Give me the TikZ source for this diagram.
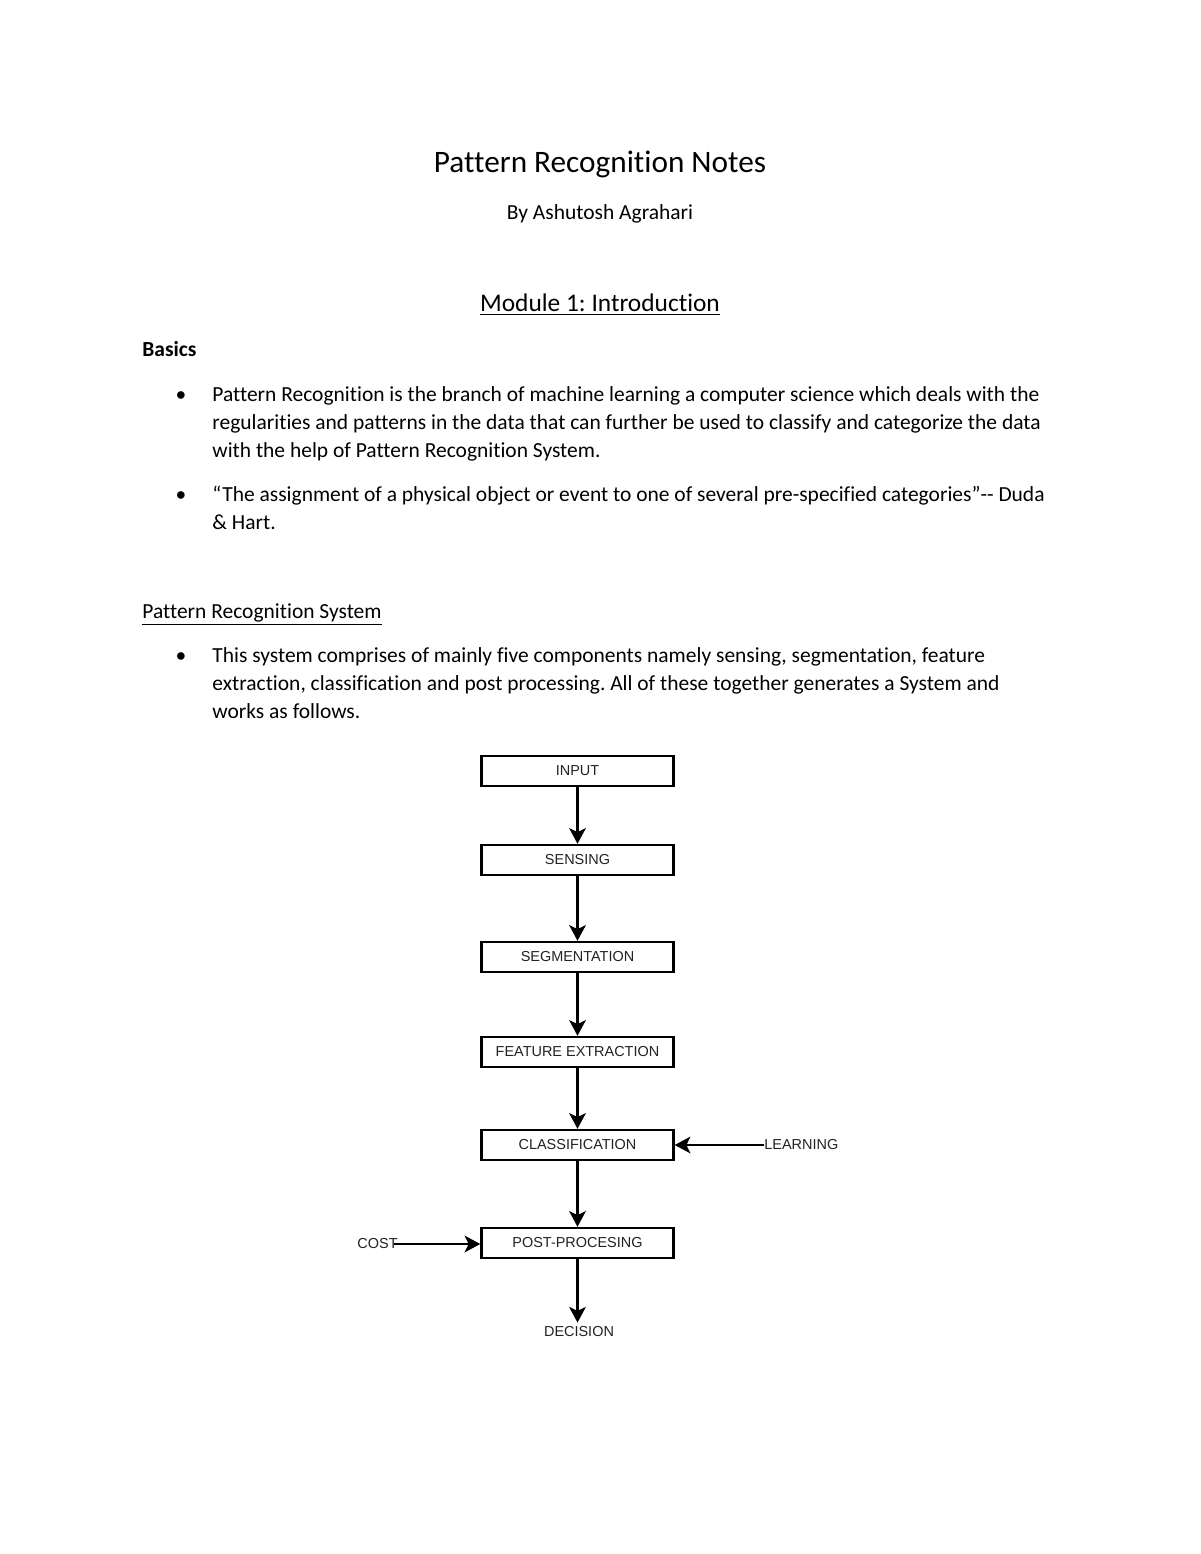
\documentclass[tikz,border=0pt]{standalone}
\usepackage{fontspec}
\setmainfont{Carlito}[Ligatures=CommonOff]
\newfontfamily\boxfont{Liberation Sans}
\usetikzlibrary{arrows.meta}
\definecolor{boxInk}{HTML}{222222}
\frenchspacing

\begin{document}
\begin{tikzpicture}[x=0.51191pt, y=-0.51191pt,
    every node/.style={inner sep=0pt},
    bodyline/.style={anchor=base west, font=\fontsize{11}{13}\selectfont},
    bulletmark/.style={anchor=base, font=\fontsize{11}{13}\selectfont},
    flowbox/.style={draw, line width=1.2pt, minimum width=98.3pt, minimum height=15.4pt,
      font=\boxfont\fontsize{7.4}{8}\selectfont, text=boxInk},
    flowlabel/.style={font=\boxfont\fontsize{7.4}{8}\selectfont, text=boxInk},
    flowarrow/.style={line width=1.2pt, -{Stealth[length=8pt, width=8.5pt, inset=2pt]}}]
    \useasboundingbox[fill=white] (0,0) rectangle (1200,1554);
    % heading
    \node[anchor=base, font=\fontsize{16}{19}\selectfont] (title) at (600,172) {Pattern Recognition Notes};
    \node[anchor=base, font=\fontsize{11}{13}\selectfont] (author) at (600,219) {By Ashutosh Agrahari};
    \node[anchor=base, font=\fontsize{13}{16}\selectfont] (module) at (600,311) {\underline{Module 1: Introduction}};
    \node[bodyline, font=\fontsize{11}{13}\bfseries\selectfont] (basics) at (142,356) {Basics};
    % first bullets
    \node[bulletmark] (bulA) at (181,401) {\textbullet};
    \node[bodyline] (lineA1) at (212,401) {Pattern Recognition is the branch of machine learning a computer science which deals with the};
    \node[bodyline] (lineA2) at (212,429) {regularities and patterns in the data that can further be used to classify and categorize the data};
    \node[bodyline] (lineA3) at (212,457) {with the help of Pattern Recognition System.};
    \node[bulletmark] (bulB) at (181,501) {\textbullet};
    \node[bodyline] (lineB1) at (212,501) {“The assignment of a physical object or event to one of several pre-specified categories”-{}- Duda};
    \node[bodyline] (lineB2) at (212,529) {\& Hart.};
    % system part
    \node[bodyline] (system) at (142,618) {\underline{Pattern Recognition System}};
    \node[bulletmark] (bulC) at (181,662) {\textbullet};
    \node[bodyline] (lineC1) at (212,662) {This system comprises of mainly five components namely sensing, segmentation, feature};
    \node[bodyline] (lineC2) at (212,690) {extraction, classification and post processing. All of these together generates a System and};
    \node[bodyline] (lineC3) at (212,718) {works as follows.};
    % flow chart
    \node[flowbox] (input)    at (577.5,771)  {INPUT};
    \node[flowbox] (sensing)  at (577.5,860)  {SENSING};
    \node[flowbox] (segment)  at (577.5,957)  {SEGMENTATION};
    \node[flowbox] (feature)  at (577.5,1052) {FEATURE EXTRACTION};
    \node[flowbox] (classify) at (577.5,1145) {CLASSIFICATION};
    \node[flowbox] (postproc) at (577.5,1243) {POST-PROCESING};
    \node[flowlabel, inner sep=2pt] (decision) at (579,1332) {DECISION};
    \node[flowlabel, anchor=west] (learning) at (764,1145) {LEARNING};
    \node[flowlabel, anchor=east] (cost) at (398,1244) {COST};
    \draw[flowarrow] (input) -- (sensing);
    \draw[flowarrow] (sensing) -- (segment);
    \draw[flowarrow] (segment) -- (feature);
    \draw[flowarrow] (feature) -- (classify);
    \draw[flowarrow] (classify) -- (postproc);
    \draw[flowarrow] (postproc.south) -- (postproc.south |- decision.north);
    \draw[flowarrow] (learning.west) -- (classify.east);
    \draw[flowarrow] ([xshift=-2pt]cost.east) -- (cost.east -| postproc.west);
\end{tikzpicture}
\end{document}
